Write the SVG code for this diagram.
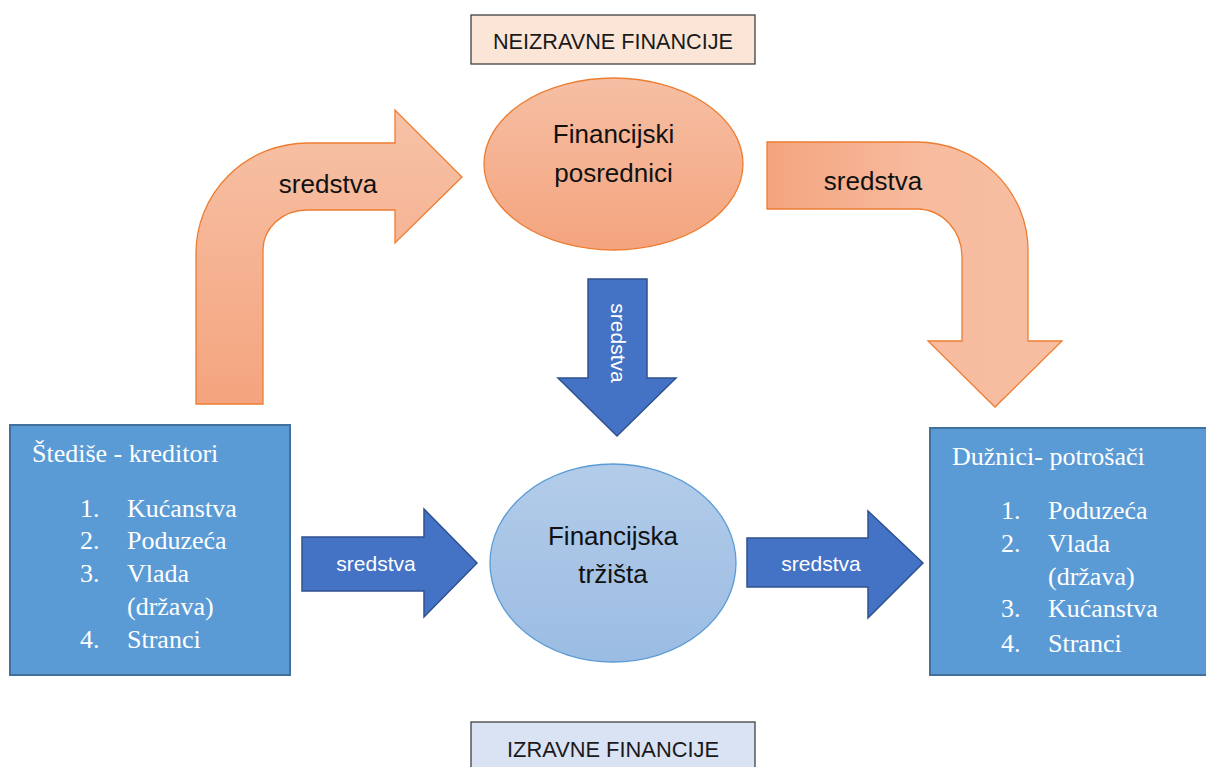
<svg xmlns="http://www.w3.org/2000/svg" width="1206" height="767" viewBox="0 0 1206 767">
<style>
.sans{font-family:"Liberation Sans",Arial,sans-serif}
.serif{font-family:"Liberation Serif","Times New Roman",serif;font-size:26px;fill:#ffffff}
.lbl{font-size:22px;fill:#1a1a1a;text-anchor:middle}
.orangeArrow{stroke:#ed7d31;stroke-width:1.3}
.blueArrow{fill:#4472c4;stroke:#2f528f;stroke-width:1.5}
.wtxt{font-size:21px;fill:#ffffff;text-anchor:middle}
.btxt{font-size:26px;fill:#111111;text-anchor:middle}
.box{fill:#5b9bd5;stroke:#41719c;stroke-width:2}
</style>
<defs>
<linearGradient id="gOrV" x1="0" y1="110" x2="0" y2="404" gradientUnits="userSpaceOnUse">
<stop offset="0" stop-color="#f7c2a7"/><stop offset="1" stop-color="#f4a47e"/>
</linearGradient>
<linearGradient id="gOrH" x1="767" y1="0" x2="1062" y2="0" gradientUnits="userSpaceOnUse">
<stop offset="0" stop-color="#f4a47e"/><stop offset="0.55" stop-color="#f7bca0"/><stop offset="1" stop-color="#f7bea2"/>
</linearGradient>
<linearGradient id="gOrE" x1="0" y1="0" x2="0" y2="1">
<stop offset="0" stop-color="#f6bfa4"/><stop offset="1" stop-color="#f4a47e"/>
</linearGradient>
<linearGradient id="gBlE" x1="0" y1="0" x2="0" y2="1">
<stop offset="0" stop-color="#b3cce9"/><stop offset="1" stop-color="#9bbce3"/>
</linearGradient>
</defs>

<g id="neizravne">
<rect x="471" y="15" width="284" height="49" fill="#fbe5d6" stroke="#404040" stroke-width="1.3"/>
<text class="sans lbl" x="613" y="49" textLength="240" lengthAdjust="spacingAndGlyphs">NEIZRAVNE FINANCIJE</text>
</g>

<g id="izravne">
<rect x="471" y="722" width="284" height="60" fill="#dae3f3" stroke="#404040" stroke-width="1.3"/>
<text class="sans lbl" x="613" y="757" textLength="212" lengthAdjust="spacingAndGlyphs">IZRAVNE FINANCIJE</text>
</g>

<g id="posrednici">
<ellipse cx="613.5" cy="164" rx="129.5" ry="86" fill="url(#gOrE)" stroke="#ed7d31" stroke-width="1.3"/>
<text class="sans btxt" x="613.5" y="143" font-size="25">Financijski</text>
<text class="sans btxt" x="613.5" y="182" font-size="25">posrednici</text>
</g>

<g id="trzista">
<ellipse cx="613" cy="563" rx="123" ry="99" fill="url(#gBlE)" stroke="#5b9bd5" stroke-width="1.3"/>
<text class="sans btxt" x="613" y="545" font-size="25">Financijska</text>
<text class="sans btxt" x="613" y="583" font-size="25">tržišta</text>
</g>

<g id="stedise">
<rect class="box" x="10" y="425" width="280" height="250"/>
<text class="serif" x="32" y="462">Štediše - kreditori</text>
<text class="serif" x="80" y="517">1.</text><text class="serif" x="127" y="517">Kućanstva</text>
<text class="serif" x="80" y="549">2.</text><text class="serif" x="127" y="549">Poduzeća</text>
<text class="serif" x="80" y="582">3.</text><text class="serif" x="127" y="582">Vlada</text>
<text class="serif" x="127" y="615">(država)</text>
<text class="serif" x="80" y="648">4.</text><text class="serif" x="127" y="648">Stranci</text>
</g>

<g id="duznici">
<rect class="box" x="930" y="428" width="290" height="247"/>
<text class="serif" x="952" y="465">Dužnici- potrošači</text>
<text class="serif" x="1001" y="519">1.</text><text class="serif" x="1048" y="519">Poduzeća</text>
<text class="serif" x="1001" y="552">2.</text><text class="serif" x="1048" y="552">Vlada</text>
<text class="serif" x="1048" y="585">(država)</text>
<text class="serif" x="1001" y="617">3.</text><text class="serif" x="1048" y="617">Kućanstva</text>
<text class="serif" x="1001" y="652">4.</text><text class="serif" x="1048" y="652">Stranci</text>
</g>

<g id="connectors">
<g id="arrow-left-bent">
<path class="orangeArrow" fill="url(#gOrV)" d="M196,404 L196,253 A112,110 0 0 1 308,143 L395,143 L395,110 L462,177 L395,243 L395,210 L307,210 A44,40 0 0 0 263,250 L263,404 Z"/>
<text class="sans btxt" x="328" y="193" font-size="25">sredstva</text>
</g>
<g id="arrow-right-bent">
<path class="orangeArrow" fill="url(#gOrH)" d="M767,142 L917,142 A111,108 0 0 1 1028,250 L1028,341 L1062,341 L995,407 L928,341 L962,341 L962,257 A45,48 0 0 0 917,209 L767,209 Z"/>
<text class="sans btxt" x="873" y="190" font-size="25">sredstva</text>
</g>
<g id="arrow-down">
<path class="blueArrow" d="M588,279 L647,279 L647,378 L676,378 L617,436 L558,378 L588,378 Z"/>
<text class="sans wtxt" transform="translate(611,343) rotate(90)" x="0" y="0">sredstva</text>
</g>
<g id="arrow-in">
<path class="blueArrow" d="M302,537 L424,537 L424,509 L477,563 L424,617 L424,591 L302,591 Z"/>
<text class="sans wtxt" x="376" y="571">sredstva</text>
</g>
<g id="arrow-out">
<path class="blueArrow" d="M747,538 L868,538 L868,511 L923,563 L868,618 L868,587 L747,587 Z"/>
<text class="sans wtxt" x="821" y="571">sredstva</text>
</g>
</g>
</svg>
